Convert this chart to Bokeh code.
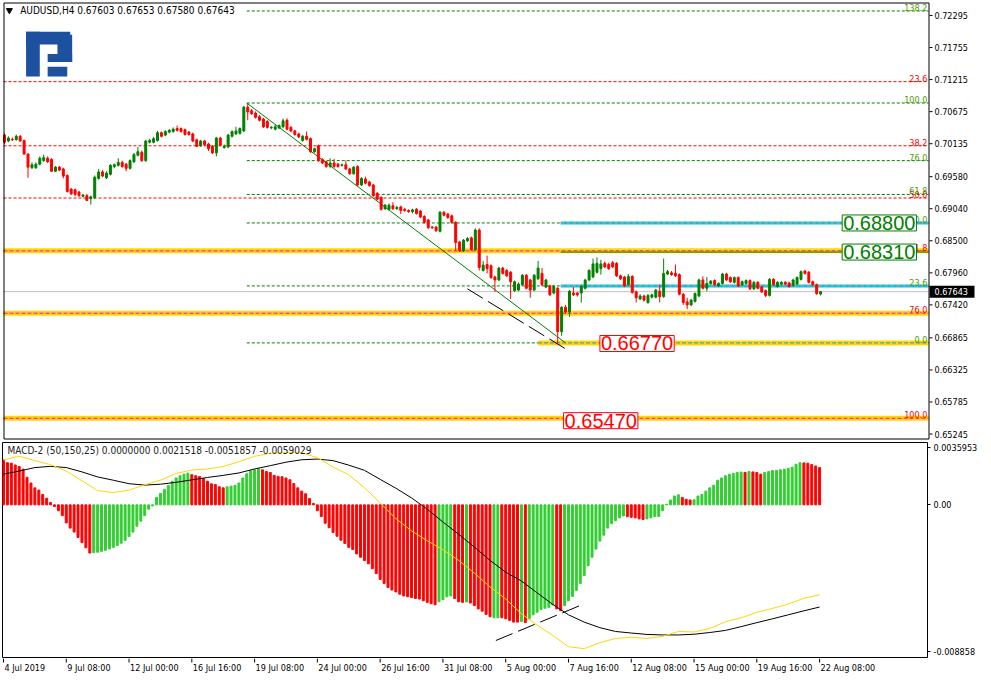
from bokeh.plotting import figure
from bokeh.layouts import column
from bokeh.models import ColumnDataSource, FixedTicker, Label, Range1d
from bokeh.core.properties import value
from bokeh.embed import file_html
from bokeh.resources import INLINE

# ---------------- data ----------------
symbol = "AUDUSD,H4"
date_labels = ["4 Jul 2019", "9 Jul 08:00", "12 Jul 00:00", "16 Jul 16:00", "19 Jul 08:00",
               "24 Jul 00:00", "26 Jul 16:00", "31 Jul 08:00", "5 Aug 00:00", "7 Aug 16:00",
               "12 Aug 08:00", "15 Aug 00:00", "19 Aug 16:00", "22 Aug 08:00"]
date_pos = [0, 16, 32, 48, 64, 80, 96, 112, 128, 144, 160, 176, 192, 208]

opens = [
    0.7028, 0.7018, 0.7021, 0.7020, 0.7026, 0.7019, 0.6996, 0.6973, 0.6973, 0.6979,
    0.6985, 0.6989, 0.6987, 0.6967, 0.6974, 0.6971, 0.6960, 0.6937, 0.6936, 0.6932,
    0.6925, 0.6926, 0.6921, 0.6923, 0.6955, 0.6966, 0.6956, 0.6962, 0.6975, 0.6977,
    0.6982, 0.6979, 0.6972, 0.6983, 0.6994, 0.6999, 0.6985, 0.7016, 0.7016, 0.7019,
    0.7032, 0.7028, 0.7033, 0.7034, 0.7039, 0.7039, 0.7037, 0.7033, 0.7030, 0.7020,
    0.7010, 0.7018, 0.7013, 0.7009, 0.6998, 0.7023, 0.7007, 0.7008, 0.7026, 0.7030,
    0.7031, 0.7035, 0.7075, 0.7069, 0.7065, 0.7059, 0.7055, 0.7051, 0.7040, 0.7038,
    0.7040, 0.7042, 0.7053, 0.7041, 0.7035, 0.7030, 0.7019, 0.7026, 0.7022, 0.7000,
    0.7010, 0.6987, 0.6983, 0.6975, 0.6981, 0.6979, 0.6977, 0.6978, 0.6971, 0.6963,
    0.6975, 0.6944, 0.6954, 0.6949, 0.6944, 0.6930, 0.6923, 0.6904, 0.6903, 0.6909,
    0.6904, 0.6907, 0.6903, 0.6901, 0.6899, 0.6903, 0.6900, 0.6891, 0.6885, 0.6873,
    0.6873, 0.6866, 0.6898, 0.6895, 0.6892, 0.6881, 0.6848, 0.6833, 0.6850, 0.6855,
    0.6835, 0.6868, 0.6800, 0.6810, 0.6808, 0.6789, 0.6784, 0.6804, 0.6800, 0.6797,
    0.6766, 0.6767, 0.6776, 0.6792, 0.6784, 0.6767, 0.6786, 0.6795, 0.6772, 0.6774,
    0.6762, 0.6770, 0.6697, 0.6738, 0.6730, 0.6762, 0.6762, 0.6762, 0.6770, 0.6784,
    0.6789, 0.6797, 0.6803, 0.6812, 0.6810, 0.6813, 0.6812, 0.6791, 0.6789, 0.6776,
    0.6790, 0.6764, 0.6752, 0.6757, 0.6746, 0.6755, 0.6755, 0.6765, 0.6756, 0.6794,
    0.6796, 0.6795, 0.6793, 0.6760, 0.6747, 0.6742, 0.6748, 0.6757, 0.6784, 0.6770,
    0.6778, 0.6783, 0.6774, 0.6778, 0.6794, 0.6788, 0.6780, 0.6788, 0.6776, 0.6778,
    0.6783, 0.6769, 0.6780, 0.6772, 0.6766, 0.6758, 0.6785, 0.6773, 0.6777, 0.6780,
    0.6779, 0.6775, 0.6777, 0.6785, 0.6799, 0.6797, 0.6781, 0.6776, 0.67603]
highs = [
    0.7031, 0.7026, 0.7024, 0.7029, 0.7028, 0.7020, 0.6997, 0.6982, 0.6982, 0.6992,
    0.6995, 0.6992, 0.6989, 0.6976, 0.6976, 0.6973, 0.6962, 0.6939, 0.6938, 0.6934,
    0.6929, 0.6929, 0.6926, 0.6960, 0.6971, 0.6969, 0.6967, 0.6979, 0.6980, 0.6989,
    0.6985, 0.6981, 0.6987, 0.6998, 0.7008, 0.7002, 0.7020, 0.7022, 0.7025, 0.7035,
    0.7034, 0.7036, 0.7038, 0.7041, 0.7044, 0.7041, 0.7039, 0.7035, 0.7032, 0.7022,
    0.7020, 0.7020, 0.7015, 0.7011, 0.7025, 0.7025, 0.7012, 0.7030, 0.7036, 0.7042,
    0.7041, 0.7077, 0.7081, 0.7072, 0.7068, 0.7062, 0.7057, 0.7053, 0.7043, 0.7045,
    0.7046, 0.7056, 0.7056, 0.7043, 0.7037, 0.7032, 0.7028, 0.7034, 0.7024, 0.7007,
    0.7012, 0.6989, 0.6985, 0.6989, 0.6988, 0.6981, 0.6980, 0.6985, 0.6973, 0.6976,
    0.6977, 0.6957, 0.6958, 0.6951, 0.6946, 0.6932, 0.6925, 0.6912, 0.6913, 0.6915,
    0.6909, 0.6909, 0.6905, 0.6903, 0.6904, 0.6905, 0.6902, 0.6893, 0.6887, 0.6875,
    0.6875, 0.6900, 0.6900, 0.6897, 0.6894, 0.6883, 0.6850, 0.6853, 0.6856, 0.6857,
    0.6871, 0.6871, 0.6816, 0.6825, 0.6810, 0.6791, 0.6806, 0.6806, 0.6802, 0.6799,
    0.6783, 0.6780, 0.6794, 0.6794, 0.6786, 0.6794, 0.6816, 0.6804, 0.6786, 0.6776,
    0.6776, 0.6772, 0.6740, 0.6742, 0.6767, 0.6772, 0.6764, 0.6776, 0.6786, 0.6802,
    0.6820, 0.6822, 0.6818, 0.6815, 0.6813, 0.6816, 0.6814, 0.6793, 0.6791, 0.6794,
    0.6792, 0.6766, 0.6760, 0.6759, 0.6760, 0.6761, 0.6769, 0.6776, 0.6820, 0.6801,
    0.6799, 0.6810, 0.6795, 0.6762, 0.6754, 0.6752, 0.6763, 0.6786, 0.6790, 0.6789,
    0.6784, 0.6785, 0.6780, 0.6796, 0.6796, 0.6790, 0.6790, 0.6790, 0.6783, 0.6785,
    0.6785, 0.6782, 0.6782, 0.6774, 0.6768, 0.6787, 0.6787, 0.6782, 0.6782, 0.6782,
    0.6781, 0.6786, 0.6790, 0.6800, 0.6801, 0.6799, 0.6783, 0.6778, 0.67653]
lows = [
    0.7013, 0.7016, 0.7018, 0.7019, 0.7017, 0.6995, 0.6956, 0.6971, 0.6971, 0.6977,
    0.6983, 0.6981, 0.6966, 0.6966, 0.6967, 0.6955, 0.6931, 0.6927, 0.6925, 0.6924,
    0.6923, 0.6917, 0.6911, 0.6920, 0.6953, 0.6957, 0.6954, 0.6960, 0.6972, 0.6975,
    0.6973, 0.6967, 0.6970, 0.6981, 0.6992, 0.6983, 0.6983, 0.7014, 0.7014, 0.7017,
    0.7024, 0.7026, 0.7031, 0.7032, 0.7034, 0.7032, 0.7027, 0.7027, 0.7016, 0.7008,
    0.7008, 0.7010, 0.7001, 0.6996, 0.6992, 0.7009, 0.7005, 0.7006, 0.7024, 0.7028,
    0.7029, 0.7033, 0.7053, 0.7062, 0.7056, 0.7051, 0.7040, 0.7039, 0.7038, 0.7036,
    0.7038, 0.7040, 0.7036, 0.7033, 0.7027, 0.7023, 0.7017, 0.7019, 0.6998, 0.6998,
    0.6983, 0.6979, 0.6973, 0.6973, 0.6973, 0.6973, 0.6975, 0.6969, 0.6961, 0.6961,
    0.6942, 0.6942, 0.6945, 0.6941, 0.6924, 0.6918, 0.6901, 0.6902, 0.6901, 0.6902,
    0.6902, 0.6895, 0.6899, 0.6897, 0.6896, 0.6894, 0.6888, 0.6879, 0.6870, 0.6870,
    0.6865, 0.6864, 0.6891, 0.6887, 0.6879, 0.6833, 0.6831, 0.6831, 0.6848, 0.6833,
    0.6833, 0.6800, 0.6798, 0.6795, 0.6786, 0.6764, 0.6782, 0.6793, 0.6789, 0.6752,
    0.6764, 0.6765, 0.6774, 0.6768, 0.6754, 0.6765, 0.6784, 0.6774, 0.6770, 0.6757,
    0.6760, 0.6677, 0.6690, 0.6727, 0.6722, 0.6757, 0.6756, 0.6746, 0.6768, 0.6782,
    0.6787, 0.6795, 0.6793, 0.6804, 0.6801, 0.6804, 0.6789, 0.6784, 0.6772, 0.6774,
    0.6761, 0.6746, 0.6750, 0.6748, 0.6744, 0.6753, 0.6753, 0.6746, 0.6754, 0.6792,
    0.6791, 0.6789, 0.6758, 0.6742, 0.6735, 0.6740, 0.6746, 0.6755, 0.6768, 0.6765,
    0.6776, 0.6774, 0.6772, 0.6776, 0.6782, 0.6779, 0.6778, 0.6772, 0.6774, 0.6776,
    0.6767, 0.6767, 0.6768, 0.6762, 0.6755, 0.6756, 0.6774, 0.6771, 0.6775, 0.6775,
    0.6771, 0.6773, 0.6775, 0.6783, 0.6793, 0.6778, 0.6774, 0.6759, 0.67580]
closes = [
    0.7016, 0.7023, 0.7020, 0.7026, 0.7018, 0.6996, 0.6974, 0.6978, 0.6979, 0.6989,
    0.6990, 0.6983, 0.6967, 0.6974, 0.6969, 0.6959, 0.6933, 0.6929, 0.6928, 0.6926,
    0.6927, 0.6918, 0.6924, 0.6957, 0.6966, 0.6959, 0.6964, 0.6977, 0.6978, 0.6982,
    0.6975, 0.6972, 0.6985, 0.6995, 0.7000, 0.6985, 0.7018, 0.7019, 0.7022, 0.7032,
    0.7026, 0.7034, 0.7036, 0.7038, 0.7036, 0.7034, 0.7029, 0.7029, 0.7018, 0.7009,
    0.7018, 0.7012, 0.7005, 0.6998, 0.7023, 0.7011, 0.7009, 0.7028, 0.7034, 0.7035,
    0.7039, 0.7075, 0.7067, 0.7064, 0.7058, 0.7053, 0.7042, 0.7041, 0.7041, 0.7042,
    0.7044, 0.7052, 0.7038, 0.7035, 0.7029, 0.7025, 0.7026, 0.7021, 0.7000, 0.7005,
    0.6985, 0.6981, 0.6975, 0.6981, 0.6975, 0.6975, 0.6978, 0.6971, 0.6963, 0.6974,
    0.6944, 0.6955, 0.6947, 0.6943, 0.6926, 0.6920, 0.6903, 0.6910, 0.6910, 0.6904,
    0.6906, 0.6901, 0.6901, 0.6899, 0.6902, 0.6896, 0.6890, 0.6881, 0.6872, 0.6872,
    0.6867, 0.6898, 0.6893, 0.6889, 0.6881, 0.6847, 0.6833, 0.6851, 0.6854, 0.6835,
    0.6868, 0.6805, 0.6809, 0.6803, 0.6788, 0.6784, 0.6804, 0.6795, 0.6791, 0.6781,
    0.6781, 0.6777, 0.6792, 0.6770, 0.6767, 0.6792, 0.6804, 0.6776, 0.6784, 0.6759,
    0.6773, 0.6697, 0.6738, 0.6730, 0.6765, 0.6759, 0.6759, 0.6773, 0.6784, 0.6800,
    0.6811, 0.6812, 0.6811, 0.6806, 0.6803, 0.6806, 0.6791, 0.6786, 0.6774, 0.6790,
    0.6763, 0.6754, 0.6757, 0.6750, 0.6758, 0.6759, 0.6767, 0.6756, 0.6795, 0.6798,
    0.6793, 0.6791, 0.6760, 0.6746, 0.6742, 0.6750, 0.6761, 0.6784, 0.6770, 0.6778,
    0.6782, 0.6776, 0.6778, 0.6794, 0.6784, 0.6781, 0.6788, 0.6774, 0.6781, 0.6783,
    0.6769, 0.6780, 0.6770, 0.6764, 0.6758, 0.6785, 0.6776, 0.6780, 0.6780, 0.6777,
    0.6773, 0.6784, 0.6788, 0.6798, 0.6795, 0.6780, 0.6776, 0.6761, 0.67643]

macd_hist = [
    0.00259, 0.00243, 0.00240, 0.00230, 0.00221, 0.00206, 0.00159, 0.00126, 0.00098, 0.00085,
    0.00060, 0.00038, 0.00013, -0.00009, -0.00034, -0.00062, -0.00104, -0.00134, -0.00157, -0.00188,
    -0.00218, -0.00248, -0.00278, -0.00276, -0.00273, -0.00268, -0.00262, -0.00254, -0.00245, -0.00234,
    -0.00221, -0.00205, -0.00183, -0.00157, -0.00123, -0.00094, -0.00062, -0.00025, -0.00006, 0.00042,
    0.00066, 0.00089, 0.00111, 0.00136, 0.00155, 0.00168, 0.00177, 0.00183, 0.00174, 0.00168,
    0.00164, 0.00151, 0.00136, 0.00121, 0.00117, 0.00104, 0.00098, 0.00104, 0.00108, 0.00113,
    0.00126, 0.00155, 0.00179, 0.00196, 0.00202, 0.00208, 0.00202, 0.00192, 0.00187, 0.00170,
    0.00164, 0.00162, 0.00155, 0.00145, 0.00123, 0.00098, 0.00079, 0.00064, 0.00036, 0.00008,
    -0.00034, -0.00068, -0.00106, -0.00132, -0.00159, -0.00181, -0.00204, -0.00223, -0.00245, -0.00257,
    -0.00283, -0.00302, -0.00321, -0.00340, -0.00368, -0.00396, -0.00430, -0.00453, -0.00477, -0.00491,
    -0.00502, -0.00515, -0.00525, -0.00530, -0.00534, -0.00540, -0.00543, -0.00553, -0.00562, -0.00570,
    -0.00576, -0.00559, -0.00547, -0.00530, -0.00525, -0.00540, -0.00559, -0.00562, -0.00560, -0.00566,
    -0.00581, -0.00600, -0.00613, -0.00632, -0.00645, -0.00651, -0.00651, -0.00651, -0.00657, -0.00666,
    -0.00676, -0.00676, -0.00672, -0.00679, -0.00657, -0.00634, -0.00619, -0.00604, -0.00596, -0.00591,
    -0.00577, -0.00600, -0.00610, -0.00581, -0.00553, -0.00528, -0.00493, -0.00453, -0.00408, -0.00351,
    -0.00302, -0.00255, -0.00209, -0.00175, -0.00134, -0.00109, -0.00091, -0.00075, -0.00064, -0.00068,
    -0.00072, -0.00075, -0.00081, -0.00085, -0.00081, -0.00075, -0.00068, -0.00067, -0.00034, 0.00004,
    0.00028, 0.00051, 0.00058, 0.00042, 0.00032, 0.00028, 0.00029, 0.00051, 0.00060, 0.00079,
    0.00098, 0.00113, 0.00142, 0.00155, 0.00168, 0.00177, 0.00181, 0.00187, 0.00189, 0.00187,
    0.00192, 0.00190, 0.00187, 0.00177, 0.00187, 0.00192, 0.00198, 0.00199, 0.00202, 0.00206,
    0.00211, 0.00217, 0.00234, 0.00243, 0.00242, 0.00240, 0.00232, 0.00224, 0.00215]
# colour of each histogram bar, as runs of (colour, count): r = falling, g = rising
macd_hist_runs = [("r", 23), ("g", 25), ("r", 9), ("g", 9), ("r", 45), ("g", 4), ("r", 3), ("g", 1),
                  ("r", 6), ("g", 2), ("r", 5), ("g", 1), ("r", 1), ("g", 7), ("r", 2), ("g", 16),
                  ("r", 5), ("g", 9), ("r", 3), ("g", 13), ("r", 1), ("g", 1), ("r", 3), ("g", 10), ("r", 5)]
line_idx = list(range(0, 209, 4))
macd_yellow = [
    0.00259, 0.00280, 0.00255, 0.00232, 0.00195, 0.00139, 0.00082, 0.00071, 0.00085, 0.00116,
    0.00142, 0.00181, 0.00201, 0.00207, 0.00221, 0.00249, 0.00280, 0.00297, 0.00303, 0.00300,
    0.00272, 0.00218, 0.00173, 0.00099, 0.00011, -0.00079, -0.00150, -0.00207, -0.00258, -0.00320,
    -0.00393, -0.00473, -0.00543, -0.00628, -0.00693, -0.00753, -0.00818, -0.00829, -0.00795, -0.00770,
    -0.00764, -0.00770, -0.00758, -0.00730, -0.00733, -0.00713, -0.00674, -0.00651, -0.00620, -0.00597,
    -0.00572, -0.00538, -0.00519]
macd_black = [
    0.00177, 0.00195, 0.00215, 0.00222, 0.00215, 0.00190, 0.00161, 0.00142, 0.00122, 0.00114,
    0.00119, 0.00130, 0.00144, 0.00158, 0.00170, 0.00184, 0.00207, 0.00226, 0.00246, 0.00260,
    0.00264, 0.00255, 0.00229, 0.00199, 0.00147, 0.00096, 0.00040, -0.00025, -0.00099, -0.00169,
    -0.00243, -0.00320, -0.00388, -0.00439, -0.00507, -0.00574, -0.00634, -0.00676, -0.00708, -0.00730,
    -0.00739, -0.00747, -0.00750, -0.00750, -0.00746, -0.00736, -0.00724, -0.00702, -0.00679, -0.00657,
    -0.00634, -0.00611, -0.00589]

price_ticks = [0.72295, 0.71755, 0.71215, 0.70675, 0.70135, 0.69580, 0.69040,
               0.68500, 0.67960, 0.67420, 0.66865, 0.66325, 0.65785, 0.65245]
macd_ticks = [0.00331, 0.0, -0.00845]
macd_tick_labels = ["0.0035953", "0.00", "-0.008858"]

# analyst objects
red_fib_levels = [0.7118, 0.7010, 0.6922, 0.6833, 0.6728, 0.6551]
red_fib_labels = ["23.6", "38.2", "50.0", "61.8", "76.0", "100.0"]
green_fib_levels = [0.7237, 0.7082, 0.6985, 0.6928, 0.6880, 0.6774, 0.6678]
green_fib_labels = ["138.2", "100.0", "76.0", "61.8", "0.0", "23.6", "0.0"]
green_fib_start = 61.75
band_levels = [0.6833, 0.6728, 0.6551]          # gold bands across the whole chart
band_low = 0.6678                               # gold band from the low to the right
band_low_start = 136.0
cyan_levels = [0.6880, 0.6774]
cyan_start = 141.75
green_line_level = 0.6831
box_green = [("0.68800", 213.5, 0.6880), ("0.68310", 213.5, 0.6831)]
box_red = [("0.66770", 151.75, 0.6677), ("0.65470", 142.5, 0.6547)]
trend_green = ([61.75, 143.0], [0.7082, 0.6678])
trend_dash_price = ([118.0, 143.25], [0.6769, 0.6667])
trend_dash_macd = ([125.5, 147.0], [-0.00782, -0.00580])
current_price = closes[-1]

# ---------------- styling / layout ----------------
FONT = "DejaVu Sans Condensed"
BOX_FONT = "Liberation Sans"
C_UP, C_DN = "#008000", "#FF0000"
H_UP, H_DN = "#32CD32", "#FF0000"
LBL_GREEN = "#4E9A06"
X0, X1 = -0.25, 235.5
P_BOT, P_TOP = 0.6517, 0.72513
M_BOT, M_TOP = -0.008858, 0.0035953
FW = 925            # plot-area width in px
FH1 = 436           # price plot-area height in px
AXW = 48            # px for the price scale strip
SX = FW / (X1 - X0)             # px per bar
SY = (P_TOP - P_BOT) / FH1      # price per px


def ix(px):   # reference pixel -> bar index (decorations only)
    return (px - 3) / 4.0


def py(px):   # reference pixel -> price (decorations only)
    return 0.72546 - 0.00016407 * px


# ---------------- main price panel (frame includes its own price scale strip) ----------------
p1 = figure(frame_width=FW + 1 + AXW, frame_height=FH1 + 1 + 4,
            x_range=Range1d(X0 - 1 / SX, X1 + AXW / SX),
            y_range=Range1d(P_BOT - 4 * SY, P_TOP + 1 * SY),
            output_backend="svg", toolbar_location=None, x_axis_location=None, y_axis_location=None,
            min_border_left=1, min_border_top=1, min_border_bottom=0, min_border_right=0,
            outline_line_color=None, background_fill_color="white", border_fill_color="white")
p1.grid.visible = False

R = len(red_fib_levels)
p1.segment(x0=[X0] * R, x1=[X1] * R, y0=red_fib_levels, y1=red_fib_levels,
           line_color="#FF0000", line_width=1, line_dash="3 2")
G = len(green_fib_levels)
p1.segment(x0=[green_fib_start] * G, x1=[X1] * G, y0=green_fib_levels, y1=green_fib_levels,
           line_color="#008000", line_width=1, line_dash="3 2")
B = len(band_levels)
p1.segment(x0=[X0] * B, x1=[X1] * B, y0=band_levels, y1=band_levels, line_color="#FFD700", line_width=5)
p1.segment(x0=[X0] * B, x1=[X1] * B, y0=band_levels, y1=band_levels,
           line_color="#FF00FF", line_width=1, line_dash="4 2")
p1.segment(x0=[band_low_start], x1=[X1], y0=[band_low], y1=[band_low], line_color="#FFD700", line_width=5)
p1.segment(x0=[band_low_start], x1=[X1], y0=[band_low], y1=[band_low],
           line_color="#1E90FF", line_width=1, line_dash="4 2")
Cn = len(cyan_levels)
p1.segment(x0=[cyan_start] * Cn, x1=[X1] * Cn, y0=cyan_levels, y1=cyan_levels, line_color="#00BFFF", line_width=3)
p1.segment(x0=[cyan_start] * Cn, x1=[X1] * Cn, y0=cyan_levels, y1=cyan_levels,
           line_color="#FFA500", line_width=1, line_dash="3 3")
p1.segment(x0=[cyan_start], x1=[X1], y0=[green_line_level], y1=[green_line_level],
           line_color="#008000", line_width=1)
p1.segment(x0=[X0], x1=[X1], y0=[current_price], y1=[current_price], line_color="#C0C0C0", line_width=1)

p1.line(trend_green[0], trend_green[1], line_color="#008000", line_width=1)
p1.line(trend_dash_price[0], trend_dash_price[1], line_color="black", line_width=1, line_dash="18 6")

# candles
n = len(opens)
up = [c >= o for o, c in zip(opens, closes)]
src = ColumnDataSource(dict(
    i=list(range(n)), o=opens, h=highs, l=lows, c=closes,
    top=[max(o, c) for o, c in zip(opens, closes)],
    bot=[min(o, c) for o, c in zip(opens, closes)],
    col=[C_UP if u else C_DN for u in up]))
p1.segment(x0="i", y0="l", x1="i", y1="h", line_color="col", line_width=1, source=src)
p1.vbar(x="i", width=0.5, top="top", bottom="bot", fill_color="col", line_color="col", line_width=1, source=src)

# fib level texts
p1.text(x=[235.2] * R, y=red_fib_levels, text=red_fib_labels, text_align="right", text_baseline="bottom",
        text_font=value(FONT), text_font_size="9px", text_color="#FF0000")
p1.text(x=[235.2] * G, y=green_fib_levels, text=green_fib_labels, text_align="right", text_baseline="bottom",
        text_font=value(FONT), text_font_size="9px", text_color=LBL_GREEN)

# price boxes
for txt, bx, by in box_green + box_red:
    col = "#008000" if (txt, bx, by) in box_green else "#FF0000"
    p1.add_layout(Label(x=bx, y=by, text=txt, text_font=BOX_FONT, text_font_size="20px",
                        text_color=col, text_align="left", text_baseline="middle",
                        background_fill_color="white", border_line_color=col, border_line_width=1,
                        padding=1))

# title
title_text = f"{symbol}  {opens[-1]:.5f} {highs[-1]:.5f} {lows[-1]:.5f} {closes[-1]:.5f}"
p1.scatter(x=[ix(8)], y=[py(10)], marker="inverted_triangle", size=6, color="black")
p1.text(x=[ix(19)], y=[py(10)], text=[title_text], text_align="left", text_baseline="middle",
        text_font=value(FONT), text_font_size="10px", text_color="black")

# logo
logo_l = [ix(25), ix(25), ix(57), ix(47), ix(47)]
logo_r = [ix(39), ix(70), ix(72), ix(72), ix(67)]
logo_t = [py(32), py(32), py(35), py(55), py(68)]
logo_b = [py(78), py(45), py(63), py(63), py(78)]
p1.quad(left=logo_l, right=logo_r, top=logo_t, bottom=logo_b, fill_color="#1D51A0", line_color=None)

# plot-area border (half-pixel aligned)
bx0, bx1 = X0 + 0.5 / SX, X1 + 0.5 / SX
byt, byb = P_TOP - 0.5 * SY, P_BOT - 0.5 * SY
p1.segment(x0=[bx0, bx0, bx0, bx1], y0=[byt, byb, byb, byb], x1=[bx1, bx1, bx0, bx1], y1=[byt, byb, byt, byt],
           line_color="black", line_width=1)

# price scale: ticks, labels, current price tag
T = len(price_ticks)
p1.segment(x0=[X1 + 1 / SX] * T, x1=[X1 + 4 / SX] * T, y0=price_ticks, y1=price_ticks,
           line_color="black", line_width=1)
p1.text(x=[X1 + 6 / SX] * T, y=price_ticks, text=[f"{t:.5f}" for t in price_ticks],
        text_align="left", text_baseline="middle", text_font=value(FONT), text_font_size="9px",
        text_color="black")
p1.quad(left=[X1 + 1 / SX], right=[X1 + 46 / SX], top=[current_price + 6 * SY], bottom=[current_price - 6 * SY],
        fill_color="black", line_color=None)
p1.text(x=[X1 + 6 / SX], y=[current_price], text=[f"{current_price:.5f}"], text_align="left",
        text_baseline="middle", text_font=value(FONT), text_font_size="9px", text_color="white")

# ---------------- MACD panel ----------------
p2 = figure(frame_width=FW, frame_height=216, x_range=Range1d(X0, X1), y_range=Range1d(M_BOT, M_TOP),
            output_backend="svg", toolbar_location=None, x_axis_location=None, y_axis_location="right",
            min_border_left=2, min_border_top=0, min_border_bottom=0, min_border_right=0,
            outline_line_color="black", background_fill_color="white", border_fill_color="white")
p2.grid.visible = False
ax = p2.yaxis[0]
ax.axis_line_color = None
ax.major_tick_in = 0
ax.major_tick_out = 3
ax.minor_tick_line_color = None
ax.major_tick_line_color = "black"
ax.major_label_text_font = FONT
ax.major_label_text_font_size = "9px"
ax.major_label_text_color = "black"
ax.major_label_standoff = 3
ax.ticker = FixedTicker(ticks=macd_ticks, minor_ticks=[])
ax.major_label_overrides = dict(zip(macd_ticks, macd_tick_labels))

hist_codes = "".join(c * k for c, k in macd_hist_runs)
hcol = [H_UP if ch == "g" else H_DN for ch in hist_codes]
hsrc = ColumnDataSource(dict(i=list(range(len(macd_hist))), v=macd_hist, col=hcol))
p2.vbar(x="i", width=0.5, top="v", bottom=0, fill_color="col", line_color="col", line_width=1, source=hsrc)
p2.line(line_idx, macd_black, line_color="black", line_width=1)
p2.line(line_idx, macd_yellow, line_color="#FFD700", line_width=1)
p2.line(trend_dash_macd[0], trend_dash_macd[1], line_color="black", line_width=1, line_dash="18 6")
p2.text(x=[ix(7)], y=[M_TOP - 0.00047], text=["MACD-2 (50,150,25) 0.0000000 0.0021518 -0.0051857 -0.0059029"],
        text_align="left", text_baseline="middle", text_font=value(FONT), text_font_size="10px",
        text_color="#202020")

# ---------------- date strip ----------------
p3 = figure(frame_width=FW, frame_height=18, x_range=p2.x_range, y_range=Range1d(0, 18),
            output_backend="svg", toolbar_location=None, x_axis_location=None, y_axis_location=None,
            min_border_left=2, min_border_top=0, min_border_bottom=0, min_border_right=0,
            outline_line_color=None, background_fill_color="white", border_fill_color="white")
p3.grid.visible = False
D = len(date_pos)
p3.segment(x0=date_pos, x1=date_pos, y0=[18] * D, y1=[14] * D, line_color="black", line_width=1)
p3.text(x=date_pos, y=[9] * D, text=date_labels, x_offset=1, text_align="left", text_baseline="middle",
        text_font=value(FONT), text_font_size="9px", text_color="black")

layout = column(p1, p2, p3, spacing=0)
open("out.html", "w").write(file_html(layout, INLINE))
